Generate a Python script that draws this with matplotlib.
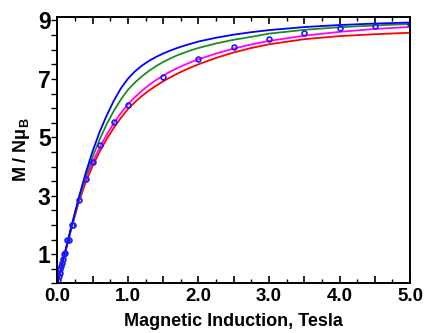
import matplotlib
matplotlib.use("Agg")
import matplotlib.pyplot as plt
from matplotlib.ticker import MultipleLocator, FuncFormatter

plt.rcParams["font.family"] = "Liberation Sans"
plt.rcParams["font.weight"] = "bold"
plt.rcParams["mathtext.fontset"] = "custom"
plt.rcParams["mathtext.rm"] = "Liberation Sans:bold"
plt.rcParams["mathtext.it"] = "Liberation Sans:bold"
plt.rcParams["mathtext.bf"] = "Liberation Sans:bold"

# field grid for the fitted curves (Tesla)
B_fit = [0.0, 0.1, 0.2, 0.3, 0.4, 0.5, 0.6, 0.7, 0.8, 0.9, 1.0,
         1.1, 1.2, 1.3, 1.4, 1.5, 1.6, 1.7, 1.8, 1.9, 2.0,
         2.25, 2.5, 2.75, 3.0, 3.5, 4.0, 4.5, 5.0]
M_blue = [0.0, 1.0, 1.98, 2.92, 3.78, 4.54, 5.20, 5.76, 6.26, 6.68, 7.01,
          7.26, 7.46, 7.62, 7.755, 7.87, 7.97, 8.06, 8.14, 8.21, 8.28,
          8.41, 8.515, 8.6, 8.67, 8.775, 8.845, 8.895, 8.93]
M_green = [0.0, 0.98, 1.94, 2.85, 3.65, 4.34, 4.94, 5.46, 5.91, 6.30, 6.63,
           6.88, 7.095, 7.28, 7.44, 7.58, 7.70, 7.81, 7.90, 7.985, 8.06,
           8.215, 8.34, 8.44, 8.55, 8.68, 8.77, 8.83, 8.88]
M_magenta = [0.0, 0.99, 1.96, 2.84, 3.57, 4.16, 4.66, 5.10, 5.49, 5.83, 6.13,
             6.38, 6.60, 6.795, 6.965, 7.115, 7.25, 7.37, 7.48, 7.58, 7.67,
             7.87, 8.04, 8.18, 8.3, 8.48, 8.61, 8.71, 8.78]
M_red = [0.0, 0.97, 1.91, 2.76, 3.46, 4.03, 4.52, 4.95, 5.33, 5.67, 5.97,
         6.21, 6.42, 6.605, 6.77, 6.92, 7.055, 7.18, 7.295, 7.4, 7.5,
         7.72, 7.905, 8.06, 8.185, 8.36, 8.465, 8.53, 8.58]

# measured points
B_exp = [0.01, 0.02, 0.03, 0.04, 0.05, 0.06, 0.08, 0.09, 0.1, 0.14, 0.16, 0.2, 0.22, 0.3, 0.4,
         0.5, 0.6, 0.8, 1.0, 1.5, 2.0, 2.5, 3.0, 3.5, 4.0, 4.5, 5.0]
M_exp = [0.1, 0.25, 0.35, 0.5, 0.6, 0.7, 0.85, 1.0, 1.05, 1.5, 1.5, 2.0, 2.0, 2.85, 3.58,
         4.17, 4.74, 5.52, 6.12, 7.08, 7.67, 8.08, 8.37, 8.56, 8.75, 8.81, 8.87]

fig = plt.figure(figsize=(4.24, 3.33), dpi=100)
ax = fig.add_axes([0.1356, 0.149, 0.8314, 0.8])

ax.plot(B_fit, M_red, color="#ff0000", lw=1.3)
ax.plot(B_fit, M_magenta, color="#ff00ff", lw=1.3)
ax.plot(B_fit, M_green, color="#1e8c1e", lw=1.3)
ax.plot(B_fit, M_blue, color="#0000ff", lw=1.3)
ax.plot(B_exp, M_exp, "o", ms=3.5, mfc="none", mec="#1a1aff", mew=1.2)

ax.set_xlim(0, 5.0)
ax.set_ylim(0, 9.12)

ax.xaxis.set_major_locator(MultipleLocator(0.5))
ax.xaxis.set_minor_locator(MultipleLocator(0.25))
ax.xaxis.set_major_formatter(FuncFormatter(lambda v, p: f"{v:.1f}" if abs(v - round(v)) < 1e-6 else ""))
ax.yaxis.set_major_locator(MultipleLocator(0.5))
ax.yaxis.set_major_formatter(FuncFormatter(lambda v, p: f"{int(round(v))}" if abs(v - round(v)) < 1e-6 and int(round(v)) % 2 == 1 else ""))

ax.tick_params(axis="x", which="major", direction="in", top=True, length=5, width=1.2,
               labelsize=13.5, pad=3)
ax.tick_params(axis="x", which="minor", direction="in", top=True, length=3, width=1.0)
ax.tick_params(axis="y", which="major", direction="out", right=False, length=4, width=1.0,
               labelsize=16.5, pad=1)

for s in ax.spines.values():
    s.set_linewidth(1.4)

ax.set_xlabel("Magnetic Induction, Tesla", fontsize=13, fontweight="bold", labelpad=6)
ax.set_ylabel(r"M / N$\mu_\mathrm{B}$", fontsize=13, fontweight="bold", labelpad=4)

fig.savefig("out.png", dpi=100)
